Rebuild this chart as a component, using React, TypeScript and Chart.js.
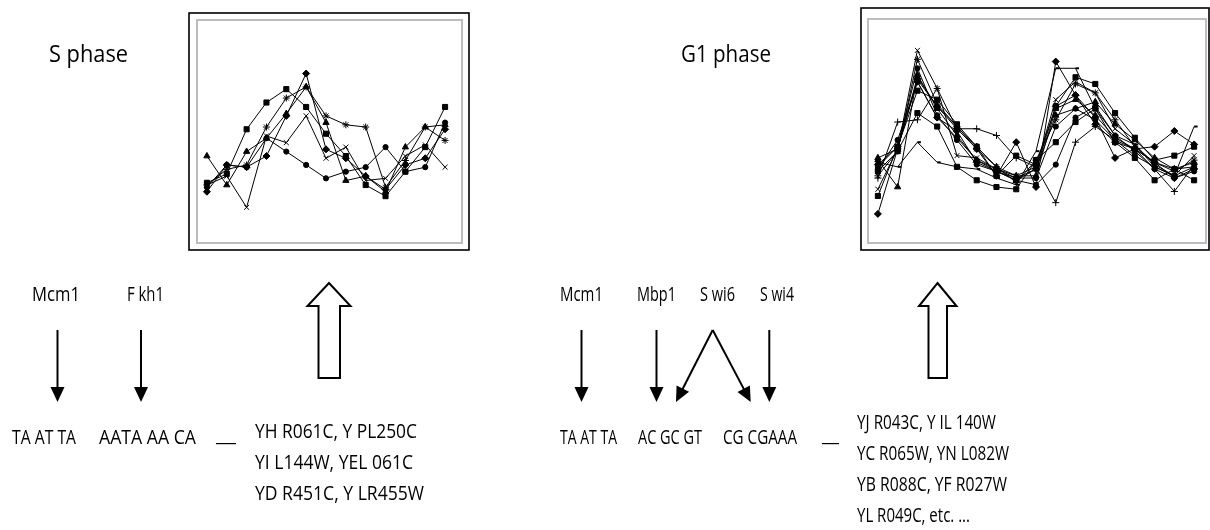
import React, { useEffect, useRef } from "react";
import { Chart, registerables } from "chart.js";

Chart.register(...registerables);

// ---------- DATA ----------
const S_TIMEPOINTS = ["1", "2", "3", "4", "5", "6", "7", "8", "9", "10", "11", "12", "13"];
const G1_TIMEPOINTS = ["1", "2", "3", "4", "5", "6", "7", "8", "9", "10", "11", "12", "13", "14", "15", "16", "17"];

// S phase cluster (relative expression, 0–100)
const S_YHR061C = [23, 35, 34, 39, 57, 76, 42, 38, 30, 24, 35, 38, 51];
const S_YPL250C = [27, 31, 51, 63, 69, 61, 49, 39, 26, 21, 32, 43, 61];
const S_YIL144W = [39, 26, 41, 47, 58, 70, 54, 28, 30, 23, 43, 52, 53];
const S_YEL061C = [26, 30, 16, 48, 45, 57, 38, 43, 28, 29, 39, 44, 34];
const S_YDR451C = [26, 33, 35, 52, 65, 70, 57, 53, 52, 25, 37, 52, 46];
const S_YLR455W = [25, 35, 34, 47, 41, 35, 29, 32, 34, 43, 32, 34, 54];

// G1 phase cluster (relative expression, 0–100)
const G1_YJR043C = [13, 42, 73, 61, 51, 42, 30, 45, 25, 81, 66, 56, 38, 42, 43, 50, 44];
const G1_YIL140W = [21, 43, 68, 64, 53, 43, 30, 39, 35, 61, 74, 71, 58, 47, 37, 39, 43];
const G1_YCR065W = [37, 25, 75, 60, 48, 37, 32, 28, 33, 57, 60, 63, 53, 46, 38, 33, 34];
const G1_YNL082W = [24, 42, 86, 69, 39, 38, 33, 30, 34, 64, 72, 67, 51, 44, 35, 30, 39];
const G1_YBR088C = [30, 41, 82, 62, 52, 42, 34, 27, 37, 55, 71, 67, 55, 43, 36, 32, 37];
const G1_YFR027W = [34, 43, 78, 57, 46, 35, 32, 28, 26, 35, 56, 61, 48, 41, 33, 29, 32];
const G1_YLR049C = [29, 54, 55, 69, 51, 51, 48, 38, 34, 18, 45, 52, 46, 42, 33, 23, 35];
const G1_OTHER_1 = [36, 34, 45, 36, 34, 33, 29, 26, 41, 78, 78, 60, 48, 44, 34, 30, 52];
const G1_OTHER_2 = [35, 43, 72, 56, 50, 36, 32, 29, 33, 61, 66, 53, 45, 42, 36, 29, 33];
const G1_OTHER_3 = [32, 41, 58, 52, 34, 28, 25, 24, 37, 45, 54, 60, 45, 38, 28, 33, 28];
const G1_OTHER_4 = [38, 42, 74, 61, 52, 43, 34, 30, 30, 60, 64, 57, 47, 42, 36, 33, 36];
const G1_OTHER_5 = [33, 46, 72, 56, 47, 37, 33, 29, 29, 52, 60, 55, 46, 39, 34, 30, 34];

const S_TITLE = "S phase";
const G1_TITLE = "G1 phase";
const S_FACTORS = ["Mcm1", "F kh1"];
const S_MOTIFS = ["TA AT TA", "AATA AA CA"];
const S_GENES = ["YH R061C, Y PL250C", "YI L144W, YEL  061C", "YD R451C, Y LR455W"];
const G1_FACTORS = ["Mcm1", "Mbp1", "S wi6", "S wi4"];
const G1_MOTIFS = ["TA AT TA", "AC GC GT", "CG CGAAA"];
const G1_GENES = ["YJ R043C, Y IL 140W", "YC R065W, YN L082W", "YB R088C, YF R027W", "YL R049C, etc.  ..."];

// ---------- COMPONENTS ----------
type Series = { label: string; values: number[]; marker: any; radius: number; bw?: number };

const S_SERIES: Series[] = [
  { label: "YHR061C", values: S_YHR061C, marker: "rectRot", radius: 3.5 },
  { label: "YPL250C", values: S_YPL250C, marker: "rect", radius: 3.6 },
  { label: "YIL144W", values: S_YIL144W, marker: "triangle", radius: 3.6 },
  { label: "YEL061C", values: S_YEL061C, marker: "crossRot", radius: 3.5 },
  { label: "YDR451C", values: S_YDR451C, marker: "star", radius: 3.5 },
  { label: "YLR455W", values: S_YLR455W, marker: "circle", radius: 2.6 },
];

const G1_SERIES: Series[] = [
  { label: "YJR043C", values: G1_YJR043C, marker: "rectRot", radius: 3.5 },
  { label: "YIL140W", values: G1_YIL140W, marker: "rect", radius: 3.6 },
  { label: "YCR065W", values: G1_YCR065W, marker: "triangle", radius: 3.6 },
  { label: "YNL082W", values: G1_YNL082W, marker: "crossRot", radius: 3.5 },
  { label: "YBR088C", values: G1_YBR088C, marker: "star", radius: 3.5 },
  { label: "YFR027W", values: G1_YFR027W, marker: "circle", radius: 2.6 },
  { label: "YLR049C", values: G1_YLR049C, marker: "cross", radius: 3.5 },
  { label: "other 1", values: G1_OTHER_1, marker: "dash", radius: 3.5, bw: 2 },
  { label: "other 2", values: G1_OTHER_2, marker: "rectRot", radius: 3.5 },
  { label: "other 3", values: G1_OTHER_3, marker: "rect", radius: 3.6 },
  { label: "other 4", values: G1_OTHER_4, marker: "triangle", radius: 3.6 },
  { label: "other 5", values: G1_OTHER_5, marker: "circle", radius: 2.6 },
];

type ChartProps = {
  left: number;
  top: number;
  width: number;
  height: number;
  padding: { left: number; right: number; top: number; bottom: number };
  labels: string[];
  series: Series[];
  gray: number[];
  black: number[];
};

function PhaseChart(props: ChartProps) {
  const ref = useRef<HTMLCanvasElement>(null);
  useEffect(() => {
    const framePlugin = {
      id: "frames",
      afterDraw(chart: any) {
        const ctx = chart.ctx;
        ctx.save();
        const [gx0, gy0, gx1, gy1] = props.gray;
        ctx.strokeStyle = "#bdbdbd";
        ctx.lineWidth = 2;
        ctx.strokeRect(gx0, gy0, gx1 - gx0, gy1 - gy0);
        const [bx0, by0, bx1, by1] = props.black;
        ctx.strokeStyle = "#000";
        ctx.lineWidth = 1.6;
        ctx.strokeRect(bx0, by0, bx1 - bx0, by1 - by0);
        ctx.restore();
      },
    };
    const chart = new Chart(ref.current as HTMLCanvasElement, {
      type: "line",
      data: {
        labels: props.labels,
        datasets: props.series.map((s) => ({
          label: s.label,
          data: s.values,
          borderColor: "#000",
          backgroundColor: "#000",
          borderWidth: 1,
          tension: 0,
          pointStyle: s.marker,
          pointRadius: s.radius,
          pointBackgroundColor: "#000",
          pointBorderColor: "#000",
          pointBorderWidth: s.bw ?? 1,
        })),
      },
      options: {
        animation: false,
        responsive: false,
        maintainAspectRatio: false,
        layout: { padding: props.padding },
        plugins: { legend: { display: false }, tooltip: { enabled: false } },
        scales: {
          x: { type: "category", display: false, offset: true },
          y: { display: false, min: 0, max: 100 },
        },
      },
      plugins: [framePlugin],
    });
    return () => chart.destroy();
  }, []);
  return (
    <canvas
      ref={ref}
      width={props.width}
      height={props.height}
      style={{ position: "absolute", left: props.left, top: props.top, width: props.width, height: props.height }}
    />
  );
}

const FONT = '"Open Sans", "Noto Sans", sans-serif';

function T(p: { x: number; y: number; w: number; size?: number; children: string }) {
  return (
    <text
      x={p.x}
      y={p.y}
      textLength={p.w}
      lengthAdjust="spacingAndGlyphs"
      fontFamily={FONT}
      fontSize={p.size ?? 20}
      fill="#000"
    >
      {p.children}
    </text>
  );
}

function DownArrow({ x }: { x: number }) {
  return (
    <g>
      <line x1={x} y1={330} x2={x} y2={388} stroke="#000" strokeWidth={2} />
      <polygon points={`${x - 7},387 ${x + 7},387 ${x},402`} fill="#000" />
    </g>
  );
}

function SlantArrow({ x0, y0, x1, y1 }: { x0: number; y0: number; x1: number; y1: number }) {
  const dx = x1 - x0;
  const dy = y1 - y0;
  const len = Math.hypot(dx, dy);
  const ux = dx / len;
  const uy = dy / len;
  const bx = x1 - ux * 15;
  const by = y1 - uy * 15;
  const nx = -uy * 7;
  const ny = ux * 7;
  return (
    <g>
      <line x1={x0} y1={y0} x2={bx + ux} y2={by + uy} stroke="#000" strokeWidth={2} />
      <polygon points={`${x1},${y1} ${bx + nx},${by + ny} ${bx - nx},${by - ny}`} fill="#000" />
    </g>
  );
}

function HollowArrow(p: { tip: number; hl: number; hr: number; sl: number; sr: number }) {
  const pts = [
    [p.tip, 283],
    [p.hr, 306],
    [p.sr, 306],
    [p.sr, 378],
    [p.sl, 378],
    [p.sl, 306],
    [p.hl, 306],
  ]
    .map((q) => q.join(","))
    .join(" ");
  return <polygon points={pts} fill="#fff" stroke="#000" strokeWidth={2} strokeLinejoin="miter" />;
}

export default function App() {
  return (
    <div style={{ position: "absolute", left: 0, top: 0, width: 1210, height: 530, background: "#fff", overflow: "hidden" }}>
      <PhaseChart
        left={185}
        top={8}
        width={287}
        height={247}
        padding={{ left: 12, right: 17, top: 12, bottom: 12 }}
        labels={S_TIMEPOINTS}
        series={S_SERIES}
        gray={[12, 12, 277, 235]}
        black={[4, 5, 284, 242]}
      />
      <PhaseChart
        left={855}
        top={3}
        width={355}
        height={252}
        padding={{ left: 13, right: 4, top: 16, bottom: 12 }}
        labels={G1_TIMEPOINTS}
        series={G1_SERIES}
        gray={[13, 16, 351, 240]}
        black={[6, 5, 354, 247]}
      />
      <svg width={1210} height={530} style={{ position: "absolute", left: 0, top: 0, pointerEvents: "none" }}>
        <T x={49} y={62} w={79} size={24}>{S_TITLE}</T>
        <T x={681} y={62} w={90} size={24}>{G1_TITLE}</T>

        {/* S phase regulators */}
        <T x={32} y={301} w={48}>{S_FACTORS[0]}</T>
        <T x={127} y={301} w={37}>{S_FACTORS[1]}</T>
        <DownArrow x={57.5} />
        <DownArrow x={141} />
        <T x={12} y={444} w={64}>{S_MOTIFS[0]}</T>
        <T x={99} y={444} w={97}>{S_MOTIFS[1]}</T>
        <T x={216} y={441} w={20}>{"__"}</T>
        <HollowArrow tip={329} hl={307.5} hr={350.5} sl={318.5} sr={340} />
        <T x={255} y={438} w={162}>{S_GENES[0]}</T>
        <T x={255} y={469} w={158}>{S_GENES[1]}</T>
        <T x={255} y={500} w={169}>{S_GENES[2]}</T>

        {/* G1 phase regulators */}
        <T x={560} y={301} w={43}>{G1_FACTORS[0]}</T>
        <T x={637} y={301} w={39}>{G1_FACTORS[1]}</T>
        <T x={700} y={301} w={35}>{G1_FACTORS[2]}</T>
        <T x={760} y={301} w={34}>{G1_FACTORS[3]}</T>
        <DownArrow x={581.5} />
        <DownArrow x={656.5} />
        <SlantArrow x0={712.7} y0={330} x1={676} y1={402} />
        <SlantArrow x0={712.7} y0={330} x1={750.7} y1={402} />
        <DownArrow x={769.3} />
        <T x={560} y={444} w={57}>{G1_MOTIFS[0]}</T>
        <T x={638} y={444} w={64}>{G1_MOTIFS[1]}</T>
        <T x={723} y={444} w={74}>{G1_MOTIFS[2]}</T>
        <T x={822} y={441} w={17}>{"_"}</T>
        <HollowArrow tip={937.5} hl={919} hr={956.5} sl={928.5} sr={947} />
        <T x={857} y={429} w={139}>{G1_GENES[0]}</T>
        <T x={857} y={460} w={152}>{G1_GENES[1]}</T>
        <T x={857} y={491} w={150}>{G1_GENES[2]}</T>
        <T x={857} y={522} w={113}>{G1_GENES[3]}</T>
      </svg>
    </div>
  );
}
